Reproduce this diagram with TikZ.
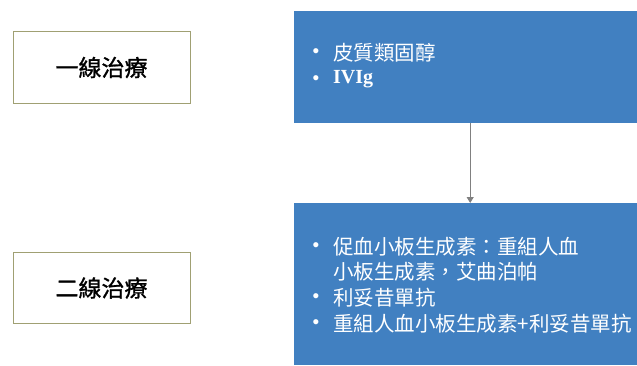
\documentclass[tikz,border=0pt]{standalone}
\usepackage{fontspec}
\usetikzlibrary{arrows.meta}
\setmainfont{Liberation Serif}
\newfontfamily\cjk{Noto Sans CJK TC}
\newfontfamily\cjkb[FakeBold=1.2]{Noto Sans CJK TC}
\newfontfamily\bul{Liberation Sans}
\definecolor{boxblue}{RGB}{65,128,193}
\definecolor{olive}{RGB}{160,160,115}
\begin{document}
\begin{tikzpicture}[x=1pt,y=1pt,
  label/.style={draw=olive,line width=1pt,fill=white,minimum width=177pt,minimum height=71pt,inner sep=0pt,font=\cjkb\fontsize{23}{26}\selectfont},
  bluebox/.style={fill=boxblue,inner sep=0pt,anchor=north west},
  item/.style={anchor=west,inner sep=0pt,text=white,font=\cjk\fontsize{20.5}{24}\selectfont},
  dot/.style={anchor=center,inner sep=0pt,text=white,font=\bul\fontsize{19}{20}\selectfont},
  arr/.style={draw=gray,line width=1pt,-{Triangle[length=6pt,width=7pt]}}]
\useasboundingbox (0,0) rectangle (637,365);
% left labels
\node[label] (l1) at (101.5,297.5) {一線治療};
\node[label] (l2) at (101.5,77) {二線治療};
% blue boxes
\node[bluebox,minimum width=343pt,minimum height=112pt] (b1) at (294,354) {};
\node[bluebox,minimum width=343pt,minimum height=162pt] (b2) at (294,162) {};
% box 1 items
\node[dot] (d1) at (316,312) {•};
\node[item] (t1) at (333,312) {皮質類固醇};
\node[dot] (d2) at (316,285) {•};
\node[item,font=\bfseries\fontsize{20}{22}\selectfont] (t2) at (333,285.5) {IVIg};
% box 2 items
\node[dot] (d3) at (316,118) {•};
\node[item] (t3) at (333,118) {促血小板生成素：重組人血};
\node[item] (t4) at (333,93) {小板生成素，艾曲泊帕};
\node[dot] (d5) at (316,67) {•};
\node[item] (t5) at (333,67) {利妥昔單抗};
\node[dot] (d6) at (316,41) {•};
\node[item] (t6) at (333,41) {重組人血小板生成素+利妥昔單抗};
% arrow
\draw[arr] ([xshift=4.5pt]b1.south) -- ([xshift=4.5pt]b2.north);
\end{tikzpicture}
\end{document}
